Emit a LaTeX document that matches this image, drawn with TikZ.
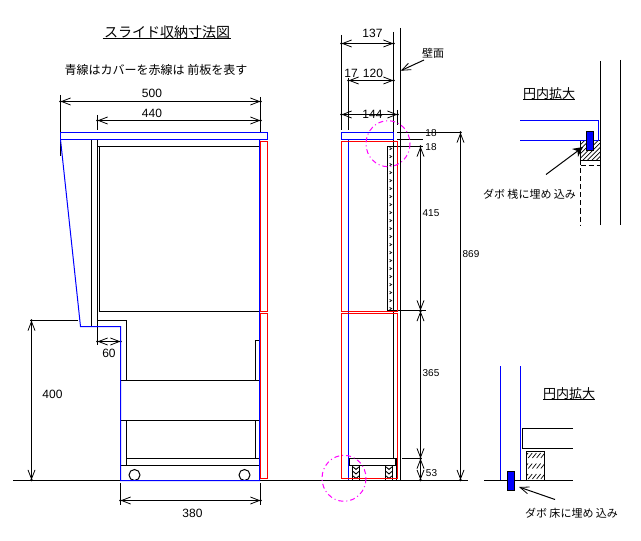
\documentclass[tikz,border=0pt]{standalone}
\usepackage{fontspec}
\setmainfont{Liberation Sans}
\newfontfamily\jp{Noto Sans CJK JP}
\usetikzlibrary{arrows.meta}
\definecolor{bl}{RGB}{0,0,255}
\definecolor{rd}{RGB}{255,0,0}
\definecolor{mg}{RGB}{255,0,255}
\tikzset{
 ln/.style={draw=black,line width=1bp},
 blu/.style={draw=bl,line width=1bp},
 redl/.style={draw=rd,line width=1.4bp},
 dimarrow/.style={ln,{Straight Barb[length=9bp,width=7bp,line width=.8bp]}-{Straight Barb[length=9bp,width=7bp,line width=.8bp]}},
 numa/.style={inner sep=0pt,font=\fontsize{12bp}{12bp}\selectfont},
 numb/.style={inner sep=0pt,font=\fontsize{10bp}{10bp}\selectfont},
 jptext/.style={inner sep=0pt,font=\jp\fontsize{11bp}{11bp}\selectfont},
 jptitle/.style={inner sep=0pt,font=\jp\fontsize{13bp}{13bp}\selectfont},
 circ/.style={draw=mg,line width=1bp,dash pattern=on 5bp off 3bp on 1bp off 3bp},
 bluefill/.style={draw=black,fill=bl,line width=1bp},
}
\newcommand{\Dim}[2]{\draw[dimarrow] (#1) -- (#2);\fill (#1) circle (1.3bp);\fill (#2) circle (1.3bp);}
\begin{document}
\begin{tikzpicture}[x=1bp,y=-1bp]
\useasboundingbox (0,0) rectangle (641,541);
\fill[white] (0,0) rectangle (641,541);
% titles
\node[jptitle,font=\jp\fontsize{14bp}{14bp}\selectfont] (title) at (167,32) {スライド収納寸法図};
\draw[ln] (102.5,38.5) -- (231,38.5);
\node[jptext,font=\jp\fontsize{12bp}{12bp}\selectfont] (sub) at (156,70) {青線はカバーを赤線は 前板を表す};
% floor
\draw[ln] (13,480.5) -- (468,480.5);
% === left view: black
\draw[ln] (60.5,95) -- (60.5,156);
\draw[ln] (260.5,97) -- (260.5,132);
\draw[ln] (97.5,115) -- (97.5,130);
\draw[ln] (91.5,139.5) -- (91.5,326.5);
\draw[ln] (97.5,139.5) -- (97.5,345);
\draw[ln] (97.5,146.5) -- (260,146.5);
\draw[ln] (99.5,146.5) -- (99.5,311.5) -- (260,311.5);
\draw[ln] (30,320.5) -- (77.5,320.5);
\draw[ln] (97.5,320.5) -- (126.5,320.5) -- (126.5,380.5);
\draw[ln] (120.5,380.5) -- (260,380.5);
\draw[ln] (120.5,420.5) -- (260,420.5);
\draw[ln] (126.5,420.5) -- (126.5,465.5);
\draw[ln] (126.5,458.5) -- (260,458.5);
\draw[ln] (120.5,465.5) -- (260,465.5);
\draw[ln] (260,340.5) -- (255.5,340.5) -- (255.5,380.5);
\draw[ln] (255.5,420.5) -- (255.5,458.5);
\begin{scope}
\clip (120,460) rectangle (260,480);
\draw[ln] (134.5,475) circle (5.5);
\draw[ln] (244.5,475) circle (5.5);
\end{scope}
\draw[ln] (120.5,483) -- (120.5,505);
\draw[ln] (260.5,483) -- (260.5,505);
% left dims
\Dim{60.5,101.5}{260.5,101.5}
\Dim{97.5,120.5}{260.5,120.5}
\Dim{31.5,320.5}{31.5,480}
\Dim{97.5,341.5}{120.5,341.5}
\Dim{120.5,500.5}{260.5,500.5}
\node[numa] (d500) at (152,93.5) {500};
\node[numa] (d440) at (152,113.5) {440};
\node[numa] (d400) at (52.5,394) {400};
\node[numa] (d60) at (109,353.5) {60};
\node[numa] (d380) at (192.5,513.5) {380};
% left view: colour
\draw[blu] (60.5,132.5) rectangle (267.5,139.5);
\draw[blu] (60.5,139.5) -- (80.5,326.5) -- (120.5,326.5) -- (120.5,480.5) -- (259.5,480.5) -- (259.5,139.5);
\draw[redl] (260.5,141.5) rectangle (267.5,311.5);
\draw[redl] (260.5,313.5) rectangle (267.5,478.5);
% === right view: black
\draw[ln] (341.5,35) -- (341.5,130);
\draw[ln] (348.5,78) -- (348.5,130);
\draw[ln] (393.5,32) -- (393.5,458.5);
\draw[ln] (397.5,110) -- (397.5,125);
\draw[ln] (400.5,28) -- (400.5,480.5);
\draw[ln] (387.5,146.5) -- (387.5,310.5);
\draw[ln] (387.5,146.5) -- (423,146.5);
\draw[ln] (397,132.5) -- (460.5,132.5);
\draw[ln] (397,139.5) -- (423,139.5);
\draw[ln] (387.5,310.5) -- (426,310.5);
\draw[ln] (402,458.5) -- (421,458.5);
\foreach \k in {0,...,20}{
  \draw[black,line width=.7bp] (389.6,147.4+8*\k) -- (391.6,148.6+8*\k) -- (389.6,149.8+8*\k);
}
\draw[ln] (349.5,458.5) rectangle (396.5,465.5);
\fill (395,458.5) rectangle (397,465.5);
\draw[ln] (396.5,465.5) -- (396.5,480.5);
\foreach \xa in {352.5,385.5}{
  \draw[ln] (\xa,465.5) -- (\xa,480.5);
  \draw[ln] (\xa+7,465.5) -- (\xa+7,480.5);
  \foreach \ya in {467,471.5,476}{
    \draw[black,line width=.9bp] (\xa+.7,\ya) -- (\xa+3.5,\ya+2.5) -- (\xa+6.3,\ya);
  }
}
% right dims
\Dim{341.5,43.5}{393.5,43.5}
\Dim{348.5,80.5}{393.5,80.5}
\Dim{341.5,114.5}{397.5,114.5}
\Dim{420.5,146.5}{420.5,310.5}
\Dim{420.5,311}{420.5,458.5}
\Dim{420.5,458.5}{420.5,480}
\Dim{460.5,132.5}{460.5,480}
\node[numa] (d137) at (372.5,33) {137};
\node[numa] (d17) at (351,73) {17};
\node[numa] (d120) at (373,73) {120};
\node[numa] (d144) at (372.5,114.5) {144};
\node[numb] (d18a) at (431,133.5) {18};
\node[numb] (d18b) at (431,147.5) {18};
\node[numb] (d415) at (431,213) {415};
\node[numb] (d365) at (431,373.5) {365};
\node[numb] (d53) at (431.5,473.5) {53};
\node[numb] (d869) at (471,254) {869};
\node[jptext] (wall) at (433,53) {壁面};
\coordinate (wallend) at (400.7,70.7);
\draw[ln,-{Straight Barb[length=9bp,width=7bp,line width=.8bp]}] (424,60) -- (wallend);
% right view colour
\draw[blu] (341.5,132.5) rectangle (393.5,139.5);
\draw[blu] (348.5,139.5) -- (348.5,480);
\draw[redl] (341.5,141.5) rectangle (397.5,311.5);
\draw[redl] (341.5,313.5) rectangle (397.5,478.5);
\draw[circ] (388,143.7) ellipse (22 and 23);
\draw[circ] (344,478.3) ellipse (22 and 23);
% === detail 1
\node[jptitle] (t1) at (549,94) {円内拡大};
\draw[ln] (523,99.5) -- (575,99.5);
\draw[ln] (600.5,61) -- (600.5,225);
\draw[ln] (620.5,60) -- (620.5,225);
\begin{scope}
\clip (580.5,140.5) rectangle (600.5,160.5);
\foreach \s in {0,4.5,...,45}{
  \draw[black,line width=.7bp] (580+\s-20,160.5) -- (580+\s,140.5);
}
\end{scope}
\draw[ln] (580.5,140.5) rectangle (600.5,160.5);
\draw[ln,dash pattern=on 5bp off 3bp] (580.5,165.5) -- (600.5,165.5);
\draw[ln,dash pattern=on 5bp off 3bp] (580.5,160.5) -- (580.5,225);
\draw[blu] (520,120.5) -- (598.5,120.5) -- (598.5,140.5);
\draw[blu] (520,140.5) -- (598.5,140.5);
\draw[bluefill] (586.5,131.5) rectangle (593.5,150.5);
\coordinate (a1s) at (546,174.5);
\coordinate (a1e) at (583,147);
\draw[ln,-{Stealth[length=10bp,width=10bp]}] (a1s) -- (a1e);
\node[jptext] (c1) at (529.5,194) {ダボ 桟に埋め 込み};
% === detail 2
\node[jptitle] (t2) at (569,394) {円内拡大};
\draw[ln] (543,399.5) -- (595,399.5);
\draw[blu] (500.5,366) -- (500.5,480);
\draw[blu] (520.5,366) -- (520.5,480);
\draw[ln] (484,480.5) -- (572.7,480.5);
\draw[bluefill] (507.5,471.5) rectangle (514.5,490.5);
\draw[ln] (573,428.5) -- (522.5,428.5) -- (522.5,448.5) -- (573,448.5);
\begin{scope}
\clip (526.5,451.5) rectangle (544.5,480.5);
\foreach \ya in {453,463.5,474}{
  \foreach \s in {0,4.2,...,21}{
    \draw[black,line width=.7bp] (524+\s,\ya+5) -- (524+\s+4,\ya);
  }
}
\end{scope}
\draw[ln] (526.5,451.5) rectangle (544.5,480.5);
\coordinate (a2s) at (555,499.5);
\coordinate (a2e) at (519,487);
\draw[ln,-{Straight Barb[length=9bp,width=7bp,line width=.8bp]}] (a2s) -- (a2e);
\node[jptext] (c2) at (571.5,513) {ダボ 床に埋め 込み};
\end{tikzpicture}
\end{document}
